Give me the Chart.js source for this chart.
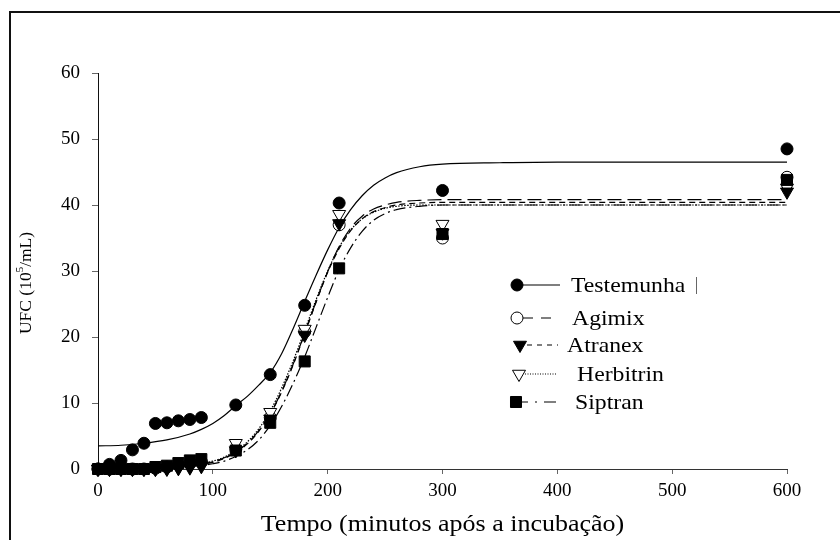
<!DOCTYPE html>
<html>
<head>
<meta charset="utf-8">
<script src="https://cdn.jsdelivr.net/npm/chart.js@4/dist/chart.umd.min.js"></script>
<style>
  html, body { margin: 0; padding: 0; background: #fff; }
  canvas { display: block; }
</style>
</head>
<body>
<canvas id="ufcChart" width="840" height="540"></canvas>
<script>
// sampling times (minutes) and counts (10^5 UFC/mL)
const obsTime = [0, 10, 20, 30, 40, 50, 60, 70, 80, 90, 120, 150, 180, 210, 300, 600];
const obsTestemunha = [0, 0.7, 1.3, 2.9, 3.9, 6.9, 7.0, 7.3, 7.5, 7.8, 9.7, 14.3, 24.8, 40.3, 42.2, 48.5];
const obsAgimix     = [0, 0, 0, 0, 0, 0.1, 0.3, 0.6, 0.9, 1.1, 3.0, 7.8, 20.8, 37.0, 35.0, 44.2];
const obsAtranex    = [0, 0, 0, 0, 0, 0, 0, 0.1, 0.2, 0.4, 2.8, 7.6, 20.3, 37.2, 35.8, 42.0];
const obsHerbitrin  = [0, 0, 0, 0, 0, 0, 0.1, 0.2, 0.4, 0.6, 3.9, 8.6, 21.2, 38.6, 37.1, 42.6];
const obsSiptran    = [0, 0, 0, 0, 0, 0.3, 0.5, 0.9, 1.3, 1.5, 2.8, 7.0, 16.3, 30.4, 35.6, 43.8];

// fitted growth curves
const fitTime = [0, 20, 40, 60, 80, 90, 100, 110, 120, 130, 140, 150, 160, 170, 180, 190, 200, 210, 220, 230, 240, 250, 260, 280, 300, 350, 400, 500, 600];
const fitTestemunha = [3.5, 3.6, 3.9, 4.4, 5.3, 6.0, 6.9, 8.1, 9.6, 11.0, 12.7, 14.6, 17.5, 21.3, 25.4, 29.4, 33.2, 36.6, 39.3, 41.4, 43.0, 44.1, 44.9, 45.8, 46.2, 46.4, 46.5, 46.5, 46.5];
const fitAgimix     = [0.1, 0.1, 0.2, 0.3, 0.6, 0.8, 1.1, 1.7, 2.6, 3.9, 5.8, 8.4, 11.8, 15.9, 20.6, 25.4, 29.9, 33.7, 36.5, 38.3, 39.4, 40.0, 40.4, 40.7, 40.8, 40.8, 40.8, 40.8, 40.8];
const fitAtranex    = [0.1, 0.1, 0.1, 0.2, 0.5, 0.7, 1.0, 1.6, 2.5, 3.8, 5.7, 8.3, 11.7, 15.8, 20.5, 25.3, 29.8, 33.4, 36.1, 37.9, 39.0, 39.6, 40.0, 40.3, 40.4, 40.4, 40.4, 40.4, 40.4];
const fitHerbitrin  = [0.1, 0.1, 0.2, 0.3, 0.6, 0.8, 1.2, 1.8, 2.8, 4.1, 6.1, 8.8, 12.3, 16.4, 21.0, 25.7, 30.0, 33.6, 36.2, 37.9, 38.9, 39.5, 39.8, 40.0, 40.0, 40.0, 40.0, 40.0, 40.0];
const fitSiptran    = [0.0, 0.1, 0.1, 0.2, 0.4, 0.5, 0.8, 1.2, 1.9, 2.9, 4.4, 6.6, 9.5, 13.0, 17.0, 21.5, 26.0, 30.2, 33.5, 36.0, 37.7, 38.7, 39.3, 39.8, 40.0, 40.0, 40.0, 40.0, 40.0];

const names = ['Testemunha', 'Agimix', 'Atranex', 'Herbitrin', 'Siptran'];
const xTicks = [0, 100, 200, 300, 400, 500, 600];
const yTicks = [0, 10, 20, 30, 40, 50, 60];

const serif = '"Liberation Serif", "Times New Roman", serif';

// marker and line look per treatment (layer: lower draws on top)
const looks = [
  { obs: obsTestemunha, fit: fitTestemunha, point: 'circle',   radius: 6,   rot: 0,   fill: '#000', layer: 0,   dash: [],            legDash: [] },
  { obs: obsAgimix,     fit: fitAgimix,     point: 'circle',   radius: 6,   rot: 0,   fill: '#fff', layer: 0.9, dash: [14, 6],       legDash: [10, 8] },
  { obs: obsAtranex,    fit: fitAtranex,    point: 'triangle', radius: 7.5, rot: 180, fill: '#000', layer: 0,   dash: [6, 4],        legDash: [5, 5] },
  { obs: obsHerbitrin,  fit: fitHerbitrin,  point: 'triangle', radius: 7.5, rot: 180, fill: '#fff', layer: 0.8, dash: [1.5, 1.5],    legDash: [1, 1.5] },
  { obs: obsSiptran,    fit: fitSiptran,    point: 'rect',     radius: 7.8, rot: 0,   fill: '#000', layer: 0,   dash: [12, 4, 2, 4], legDash: [8, 7, 2, 7, 12] }
];

function pairs(xs, ys) {
  return xs.map((x, i) => ({ x: x, y: ys[i] }));
}

const datasets = [];
looks.forEach((lk, i) => {
  datasets.push({
    type: 'scatter',
    label: names[i],
    data: pairs(obsTime, lk.obs),
    showLine: false,
    pointStyle: lk.point,
    pointRadius: lk.radius,
    pointRotation: lk.rot,
    pointBackgroundColor: lk.fill,
    pointBorderColor: '#000',
    pointBorderWidth: 1,
    clip: false,
    order: lk.layer
  });
});
looks.forEach((lk, i) => {
  datasets.push({
    type: 'line',
    label: names[i] + ' (ajuste)',
    data: pairs(fitTime, lk.fit),
    borderColor: '#000',
    borderWidth: 1.2,
    borderDash: lk.dash,
    pointRadius: 0,
    fill: false,
    cubicInterpolationMode: 'monotone',
    clip: false,
    order: 2
  });
});

function wideText(ctx, text, x, y, size) {
  ctx.save();
  ctx.translate(x, y);
  ctx.scale(1.13, 1);
  ctx.font = size + 'px ' + serif;
  ctx.fillStyle = '#000';
  ctx.textAlign = 'left';
  ctx.textBaseline = 'middle';
  ctx.fillText(text, 0, 0);
  ctx.restore();
}

const legendRows = [
  { y: 285, mx: 517, lx0: 518, lx1: 560, tx: 571 },
  { y: 318, mx: 517, lx0: 523, lx1: 556, tx: 572 },
  { y: 345, mx: 520, lx0: 527, lx1: 558, tx: 567 },
  { y: 374, mx: 519, lx0: 525, lx1: 557, tx: 577 },
  { y: 402, mx: 516, lx0: 520, lx1: 558, tx: 575 }
];

const decor = {
  id: 'decor',
  beforeDraw(chart) {
    const ctx = chart.ctx;
    ctx.save();
    ctx.fillStyle = '#fff';
    ctx.fillRect(0, 0, chart.width, chart.height);
    // outer frame
    ctx.strokeStyle = '#111';
    ctx.lineWidth = 2;
    ctx.strokeRect(10, 12, 900, 600);
    ctx.restore();
  },
  afterDraw(chart) {
    const ctx = chart.ctx;
    const area = chart.chartArea;

    // x title
    const xt = 'Tempo (minutos após a incubação)';
    ctx.save();
    ctx.font = '23px ' + serif;
    const w = ctx.measureText(xt).width * 1.13;
    ctx.restore();
    wideText(ctx, xt, (area.left + area.right) / 2 - w / 2, 525, 23);

    // y title with superscript
    ctx.save();
    ctx.translate(26, 283);
    ctx.rotate(-Math.PI / 2);
    ctx.fillStyle = '#000';
    ctx.textBaseline = 'middle';
    ctx.font = '17.5px ' + serif;
    const a = 'UFC (10', b = '5', c = '/mL)';
    const wa = ctx.measureText(a).width;
    const wc = ctx.measureText(c).width;
    ctx.font = '11px ' + serif;
    const wb = ctx.measureText(b).width;
    const x0 = -(wa + wb + wc) / 2;
    ctx.font = '17.5px ' + serif;
    ctx.fillText(a, x0, 0);
    ctx.font = '11px ' + serif;
    ctx.fillText(b, x0 + wa, -6);
    ctx.font = '17.5px ' + serif;
    ctx.fillText(c, x0 + wa + wb, 0);
    ctx.restore();

    // legend
    legendRows.forEach((row, i) => {
      const lk = looks[i];
      ctx.save();
      ctx.strokeStyle = '#000';
      ctx.lineWidth = 1.2;
      ctx.setLineDash(lk.legDash);
      ctx.beginPath();
      ctx.moveTo(row.lx0, row.y);
      ctx.lineTo(row.lx1, row.y);
      ctx.stroke();
      ctx.setLineDash([]);
      ctx.fillStyle = lk.fill;
      ctx.lineWidth = 1;
      Chart.helpers.drawPoint(ctx, { pointStyle: lk.point, radius: lk.radius, rotation: lk.rot, borderWidth: 1 }, row.mx, row.y);
      ctx.restore();
      wideText(ctx, names[i], row.tx, row.y + 1, 21);
    });
    ctx.save();
    ctx.strokeStyle = '#666';
    ctx.lineWidth = 1;
    ctx.beginPath();
    ctx.moveTo(696.5, 277);
    ctx.lineTo(696.5, 294);
    ctx.stroke();
    ctx.restore();
  }
};

function noPad(scale) {
  scale.paddingLeft = 0;
  scale.paddingRight = 0;
  scale.paddingTop = 0;
  scale.paddingBottom = 0;
}

new Chart(document.getElementById('ufcChart'), {
  type: 'scatter',
  data: { datasets: datasets },
  options: {
    responsive: false,
    animation: false,
    devicePixelRatio: 1,
    layout: { padding: { top: 73, right: 53, left: 0, bottom: 0 } },
    plugins: {
      legend: { display: false },
      tooltip: { enabled: false }
    },
    scales: {
      x: {
        type: 'linear',
        min: 0,
        max: 600,
        afterFit(scale) { scale.height = 71; noPad(scale); },
        afterBuildTicks(scale) { scale.ticks = xTicks.map(v => ({ value: v })); },
        grid: { drawOnChartArea: false, drawTicks: true, tickLength: 5, tickColor: '#666', color: '#666' },
        border: { color: '#333', width: 1 },
        ticks: { color: '#000', padding: 6, maxRotation: 0, font: { family: serif, size: 19 } }
      },
      y: {
        type: 'linear',
        min: 0,
        max: 60,
        afterFit(scale) { scale.width = 98; noPad(scale); },
        afterBuildTicks(scale) { scale.ticks = yTicks.map(v => ({ value: v })); },
        grid: { drawOnChartArea: false, drawTicks: true, tickLength: 6, tickColor: '#666', color: '#666' },
        border: { color: '#111', width: 1 },
        ticks: { color: '#000', padding: 12, font: { family: serif, size: 19 } }
      }
    }
  },
  plugins: [decor]
});
</script>
</body>
</html>
